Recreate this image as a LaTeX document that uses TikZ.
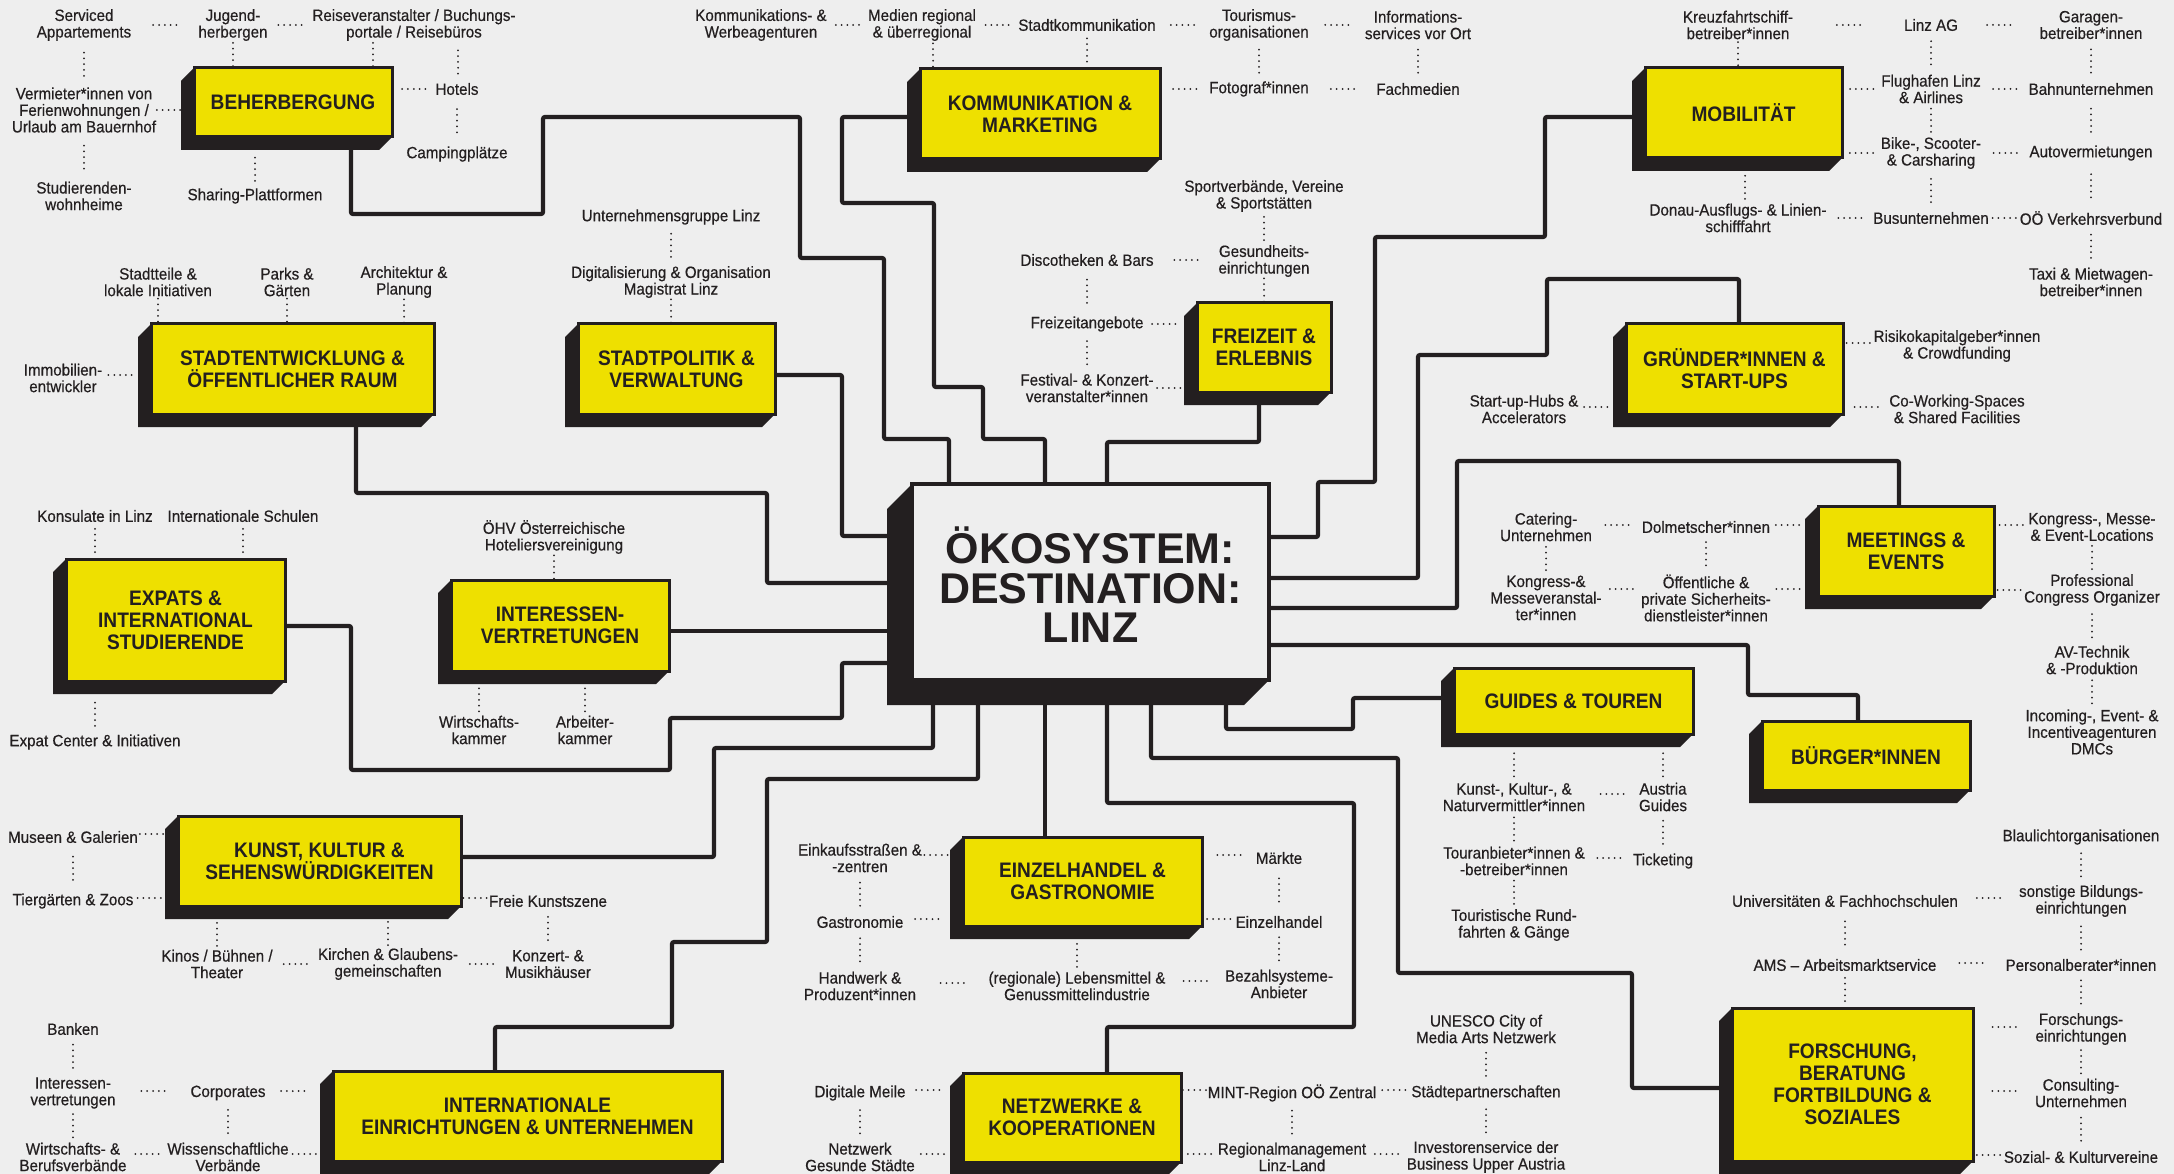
\documentclass[tikz,border=0pt]{standalone}
\usepackage{fontspec}
\setmainfont{Liberation Sans}[FakeStretch=0.93,FakeBold=0.5]
\newfontfamily\boxfont{Liberation Sans}[FakeStretch=0.91]
\newfontfamily\ctrfont{Liberation Sans}
\usetikzlibrary{calc}
\definecolor{bgc}{HTML}{EEEEEE}
\definecolor{yel}{HTML}{EEE000}
\definecolor{ink}{HTML}{231F20}
\pgfdeclarelayer{bgl}\pgfdeclarelayer{conns}\pgfdeclarelayer{shadows}
\pgfsetlayers{bgl,conns,shadows,main}
% box: [depth]{name}{cx}{cy}{w}{h}{text}
\newcommand\mkbox[7][13]{%
  \node[box, minimum width=#5pt, minimum height=#6pt] (#2) at (#3,#4) {#7};
  \coordinate (#2-sw) at ([xshift=-#1pt]#2.west);
  \coordinate (#2-sb) at ([yshift=-#1pt]#2.south);
  \begin{pgfonlayer}{shadows}
  \fill[ink] (#2.north west) -- (#2.north east) -- (#2.south east)
    -- ([xshift=-#1pt,yshift=-#1pt]#2.south east)
    -- ([xshift=-#1pt,yshift=-#1pt]#2.south west)
    -- ([xshift=-#1pt,yshift=-#1pt]#2.north west) -- cycle;
  \end{pgfonlayer}}
% vertical dotted tie: [xshift]{upper point}{lower point}{node giving x}
\newcommand\vd[4][0pt]{\path[dl] let \p1=(#2), \p2=(#3), \p3=(#4) in
  (\x3+#1,{0.5*(\y1+\y2)+11.6pt}) -- ++(0pt,-23.2pt);}
% horizontal dotted tie: [yshift]{left point}{right point}{node giving y}
\newcommand\hd[4][0pt]{\path[dl] let \p1=(#2), \p2=(#3), \p3=(#4) in
  ({0.5*(\x1+\x2)-11.6pt},\y3+#1) -- ++(23.2pt,0pt);}
\begin{document}
\begin{tikzpicture}[x=1pt,y=-1pt,
  lab/.style={align=center, inner sep=0pt, outer sep=0pt, text=ink,
    font={\fontsize{16.3}{16.6}\selectfont}},
  box/.style={draw=ink, line width=3pt, fill=yel, outer sep=0pt, inner sep=0pt,
    align=center, text=ink, font={\boxfont\bfseries\fontsize{21}{22}\selectfont}},
  ctrbox/.style={draw=ink, line width=4.5pt, fill=bgc, outer sep=0pt, inner sep=0pt,
    align=center, text=ink, font={\ctrfont\bfseries\fontsize{43}{39.5}\selectfont}},
  conn/.style={draw=ink, line width=4.2pt, rounded corners=2pt},
  dl/.style={draw=ink, line width=2pt, line cap=round, dash pattern=on 0pt off 5.8pt}]
\begin{pgfonlayer}{bgl}
\fill[bgc] (0,0) rectangle (2174,1174);
\end{pgfonlayer}
\useasboundingbox (0,0) rectangle (2174,1174);

% ---------- centre ----------
\node[ctrbox, minimum width=357pt, minimum height=196pt] (ctr) at (1090.5,582) {\rule{0pt}{42pt}ÖKOSYSTEM:\\DESTINATION:\\LINZ};
\begin{pgfonlayer}{shadows}
\fill[ink] (ctr.north west) -- (ctr.north east) -- (ctr.south east)
  -- ([xshift=-25pt,yshift=-25pt]ctr.south east)
  -- ([xshift=-25pt,yshift=-25pt]ctr.south west)
  -- ([xshift=-25pt,yshift=-25pt]ctr.north west) -- cycle;
\end{pgfonlayer}

% ---------- boxes ----------
\mkbox{beh}{293}{102.5}{198}{69}{BEHERBERGUNG}
\mkbox{kom}{1040}{114}{240}{90}{KOMMUNIKATION \&\\MARKETING}
\mkbox{mob}{1743.5}{113}{197}{90}{MOBILITÄT}
\mkbox{ste}{292.5}{369}{283}{90}{STADTENTWICKLUNG \&\\ÖFFENTLICHER RAUM}
\mkbox{pol}{676.5}{369}{197}{90}{STADTPOLITIK \&\\VERWALTUNG}
\mkbox{fre}{1264}{347.5}{134}{89}{FREIZEIT \&\\ERLEBNIS}
\mkbox{gru}{1734.5}{369}{217}{90}{GRÜNDER*INNEN \&\\START-UPS}
\mkbox{exp}{175.5}{620}{219}{122}{EXPATS \&\\INTERNATIONAL\\STUDIERENDE}
\mkbox{int}{560}{625.5}{218}{91}{INTERESSEN-\\VERTRETUNGEN}
\mkbox{mee}{1906}{551}{176}{90}{MEETINGS \&\\EVENTS}
\mkbox{gui}{1573.5}{701}{239}{66}{GUIDES \& TOUREN}
\mkbox{bur}{1866}{755.5}{208}{69}{BÜRGER*INNEN}
\mkbox{kun}{319.5}{861}{283}{90}{KUNST, KULTUR \&\\SEHENSWÜRDIGKEITEN}
\mkbox{ein}{1082.5}{881.5}{239}{89}{EINZELHANDEL \&\\GASTRONOMIE}
\mkbox{inte}{527.5}{1116}{389}{90}{INTERNATIONALE\\EINRICHTUNGEN \& UNTERNEHMEN}
\mkbox{net}{1072}{1117.5}{218}{89}{NETZWERKE \&\\KOOPERATIONEN}
\mkbox{for}{1852.5}{1084.5}{241}{153}{FORSCHUNG,\\BERATUNG\\FORTBILDUNG \&\\SOZIALES}

% ---------- connectors ----------
\begin{pgfonlayer}{conns}
\draw[conn] (beh.south -| 351,0) |- (543,214) |- (800,117) |- (884,258) |- (949,439) -- (ctr.north -| 949,0);
\draw[conn] (kom.west |- 0,117) -| (842,203) -| (934,387) -| (983,439) -| (ctr.north -| 1045,0);
\draw[conn] (pol.east |- 0,375) -| (842,536) -- (ctr.west |- 0,536);
\draw[conn] (ste.south -| 356,0) |- (767,493) |- (ctr.west |- 0,583);
\draw[conn] (int.east |- 0,631) -- (ctr.west |- 0,631);
\draw[conn] (exp.east |- 0,626) -| (351,770) -| (670,718) -| (842,663) -- (ctr.west |- 0,663);
\draw[conn] (kun.east |- 0,857) -| (714,748) -| (ctr.south -| 933,0);
\draw[conn] (ctr.south -| 978,0) |- (767,779) |- (672,942) |- (495,1027) -- (inte.north -| 495,0);
\draw[conn] (ctr.south -| 1045,0) -- (ein.north -| 1045,0);
\draw[conn] (ctr.south -| 1107,0) |- (1354,803) |- (1107,1027) -- (net.north -| 1107,0);
\draw[conn] (ctr.south -| 1151,0) |- (1398,758) |- (1632,973) |- (for.west |- 0,1088);
\draw[conn] (ctr.south -| 1226,0) |- (1353,729) |- (gui.west |- 0,698);
\draw[conn] (ctr.east |- 0,645) -| (1748,695) -| (bur.north -| 1858,0);
\draw[conn] (ctr.east |- 0,608) -| (1457,461) -| (mee.north -| 1899,0);
\draw[conn] (ctr.east |- 0,578) -| (1418,355) -| (1547,279) -| (gru.north -| 1739,0);
\draw[conn] (ctr.east |- 0,537) -| (1318,482) -| (1375,237) -| (1545,117) -- (mob.west |- 0,117);
\draw[conn] (fre.south -| 1259,0) |- (1107,442) -- (ctr.north -| 1107,0);
\end{pgfonlayer}

% ---------- Beherbergung ----------
\node[lab] (S1) at (84,25) {Serviced\\Appartements};
\node[lab] (S2) at (233,25) {Jugend-\\herbergen};
\node[lab] (S3) at (414,25) {Reiseveranstalter / Buchungs-\\portale / Reisebüros};
\node[lab] (S4) at (457,89) {Hotels};
\node[lab] (S5) at (457,154) {Campingplätze};
\node[lab] (S6) at (84,110) {Vermieter*innen von\\Ferienwohnungen /\\Urlaub am Bauernhof};
\node[lab] (S7) at (84,196) {Studierenden-\\wohnheime};
\node[lab] (S8) at (255,196) {Sharing-Plattformen};
\hd{S1.east}{S2.west}{S1}
\hd{S2.east}{S3.west}{S2}
\vd{S1.south}{S6.north}{S1}
\vd{S6.south}{S7.north}{S6}
\hd{S6.east}{beh-sw}{S6}
\vd{S2.south}{beh.north}{S2}
\vd[-41pt]{S3.south}{beh.north}{S3}
\vd[44pt]{S3.south}{S4.north}{S3}
\hd{beh.east}{S4.west}{S4}
\vd{S4.south}{S5.north}{S4}
\vd{beh-sb}{S8.north}{S8}

% ---------- Kommunikation ----------
\node[lab] (K1) at (761,25) {Kommunikations- \&\\Werbeagenturen};
\node[lab] (K2) at (922,25) {Medien regional\\\& überregional};
\node[lab] (K3) at (1087,25) {Stadtkommunikation};
\node[lab] (K4) at (1259,25) {Tourismus-\\organisationen};
\node[lab] (K5) at (1418,25) {Informations-\\services vor Ort};
\node[lab] (K6) at (1259,89) {Fotograf*innen};
\node[lab] (K7) at (1418,89) {Fachmedien};
\hd{K1.east}{K2.west}{K1}
\hd{K2.east}{K3.west}{K3}
\hd{K3.east}{K4.west}{K3}
\hd{K4.east}{K5.west}{K4}
\vd[11pt]{K2.south}{kom.north}{K2}
\vd{K3.south}{kom.north}{K3}
\vd{K4.south}{K6.north}{K4}
\vd{K5.south}{K7.north}{K5}
\hd{kom.east}{K6.west}{K6}
\hd{K6.east}{K7.west}{K6}

% ---------- Mobilitaet ----------
\node[lab] (M1) at (1738,25) {Kreuzfahrtschiff-\\betreiber*innen};
\node[lab] (M2) at (1931,25) {Linz AG};
\node[lab] (M3) at (2091,25) {Garagen-\\betreiber*innen};
\node[lab] (M4) at (1931,89) {Flughafen Linz\\\& Airlines};
\node[lab] (M5) at (2091,89) {Bahnunternehmen};
\node[lab] (M6) at (1931,153) {Bike-, Scooter-\\\& Carsharing};
\node[lab] (M7) at (2091,153) {Autovermietungen};
\node[lab] (M8) at (1738,218) {Donau-Ausflugs- \& Linien-\\schifffahrt};
\node[lab] (M9) at (1931,218) {Busunternehmen};
\node[lab] (M10) at (2091,218) {OÖ Verkehrsverbund};
\node[lab] (M11) at (2091,282) {Taxi \& Mietwagen-\\betreiber*innen};
\hd{M1.east}{M2.west}{M1}
\hd{M2.east}{M3.west}{M2}
\vd{M1.south}{mob.north}{M1}
\vd{M2.south}{M4.north}{M2}
\vd{M3.south}{M5.north}{M3}
\hd{mob.east}{M4.west}{M4}
\hd{M4.east}{M5.west}{M4}
\vd{M4.south}{M6.north}{M4}
\vd{M5.south}{M7.north}{M5}
\hd{mob.east}{M6.west}{M6}
\hd{M6.east}{M7.west}{M6}
\vd[7pt]{mob-sb}{M8.north}{M8}
\vd{M6.south}{M9.north}{M6}
\vd{M7.south}{M10.north}{M7}
\hd{M8.east}{M9.west}{M9}
\hd{M9.east}{M10.west}{M9}
\vd{M10.south}{M11.north}{M10}

% ---------- Gruender ----------
\node[lab] (G1) at (1957,346) {Risikokapitalgeber*innen\\\& Crowdfunding};
\node[lab] (G2) at (1957,409) {Co-Working-Spaces\\\& Shared Facilities};
\node[lab] (G3) at (1524,409) {Start-up-Hubs \&\\Accelerators};
\hd[3pt]{gru.east}{G1.west}{G1}
\hd[2pt]{gru.east}{G2.west}{G2}
\hd[2pt]{G3.east}{gru-sw}{G3}

% ---------- Freizeit ----------
\node[lab] (F1) at (1264,196) {Sportverbände, Vereine\\\& Sportstätten};
\node[lab] (F2) at (1264,261) {Gesundheits-\\einrichtungen};
\node[lab] (F3) at (1087,260) {Discotheken \& Bars};
\node[lab] (F4) at (1087,324) {Freizeitangebote};
\node[lab] (F5) at (1087,388) {Festival- \& Konzert-\\veranstalter*innen};
\vd{F1.south}{F2.north}{F1}
\vd{F2.south}{fre.north}{F2}
\hd{F3.east}{F2.west}{F3}
\vd{F3.south}{F4.north}{F3}
\vd{F4.south}{F5.north}{F4}
\hd{F4.east}{fre-sw}{F4}
\hd{F5.east}{fre-sw}{F5}

% ---------- Stadtpolitik ----------
\node[lab] (P1) at (671,217) {Unternehmensgruppe Linz};
\node[lab] (P2) at (671,282) {Digitalisierung \& Organisation\\Magistrat Linz};
\vd{P1.south}{P2.north}{P1}
\vd{P2.south}{pol.north}{P2}

% ---------- Stadtentwicklung ----------
\node[lab] (U1) at (158,282) {Stadtteile \&\\lokale Initiativen};
\node[lab] (U2) at (287,282) {Parks \&\\Gärten};
\node[lab] (U3) at (404,282) {Architektur \&\\Planung};
\node[lab] (U4) at (63,378) {Immobilien-\\entwickler};
\vd{U1.south}{ste.north}{U1}
\vd{U2.south}{ste.north}{U2}
\vd{U3.south}{ste.north}{U3}
\hd[3pt]{U4.east}{ste-sw}{U4}

% ---------- Expats ----------
\node[lab] (E1) at (95,516) {Konsulate in Linz};
\node[lab] (E2) at (243,516) {Internationale Schulen};
\node[lab] (E3) at (95,742) {Expat Center \& Initiativen};
\vd{E1.south}{exp.north}{E1}
\vd{E2.south}{exp.north}{E2}
\vd{exp-sb}{E3.north}{E3}

% ---------- Interessenvertretungen ----------
\node[lab] (I1) at (554,537) {ÖHV Österreichische\\Hoteliersvereinigung};
\node[lab] (I2) at (479,730) {Wirtschafts-\\kammer};
\node[lab] (I3) at (585,730) {Arbeiter-\\kammer};
\vd{I1.south}{int.north}{I1}
\vd{int-sb}{I2.north}{I2}
\vd{int-sb}{I3.north}{I3}

% ---------- Meetings ----------
\node[lab] (ME1) at (1546,527) {Catering-\\Unternehmen};
\node[lab] (ME2) at (1546,598) {Kongress-\&\\Messeveranstal-\\ter*innen};
\node[lab] (ME3) at (1706,527) {Dolmetscher*innen};
\node[lab] (ME4) at (1706,598) {Öffentliche \&\\private Sicherheits-\\dienstleister*innen};
\node[lab] (ME5) at (2092,527) {Kongress-, Messe-\\\& Event-Locations};
\node[lab] (ME6) at (2092,590) {Professional\\Congress Organizer};
\node[lab] (ME7) at (2092,660) {AV-Technik\\\& -Produktion};
\node[lab] (ME8) at (2092,732) {Incoming-, Event- \&\\Incentiveagenturen\\DMCs};
\hd[2pt]{ME1.east}{ME3.west}{ME1}
\vd{ME1.south}{ME2.north}{ME1}
\hd[9pt]{ME2.east}{ME4.west}{ME2}
\vd{ME3.south}{ME4.north}{ME3}
\hd[2pt]{ME3.east}{mee-sw}{ME3}
\hd[9pt]{ME4.east}{mee-sw}{ME4}
\hd[2pt]{mee.east}{ME5.west}{ME5}
\hd{mee.east}{ME6.west}{ME6}
\vd{ME5.south}{ME6.north}{ME5}
\vd{ME6.south}{ME7.north}{ME6}
\vd{ME7.south}{ME8.north}{ME7}

% ---------- Guides ----------
\node[lab] (GT1) at (1514,797) {Kunst-, Kultur-, \&\\Naturvermittler*innen};
\node[lab] (GT2) at (1514,861) {Touranbieter*innen \&\\-betreiber*innen};
\node[lab] (GT3) at (1514,925) {Touristische Rund-\\fahrten \& Gänge};
\node[lab] (GT4) at (1663,797) {Austria\\Guides};
\node[lab] (GT5) at (1663,861) {Ticketing};
\vd{gui-sb}{GT1.north}{GT1}
\vd{gui-sb}{GT4.north}{GT4}
\vd{GT1.south}{GT2.north}{GT1}
\vd{GT2.south}{GT3.north}{GT2}
\hd[3pt]{GT1.east}{GT4.west}{GT1}
\hd[3pt]{GT2.east}{GT5.west}{GT2}
\vd{GT4.south}{GT5.north}{GT4}

% ---------- Forschung ----------
\node[lab] (R1) at (2081,837) {Blaulichtorganisationen};
\node[lab] (R2) at (1845,901) {Universitäten \& Fachhochschulen};
\node[lab] (R3) at (2081,901) {sonstige Bildungs-\\einrichtungen};
\node[lab] (R4) at (1845,965) {AMS – Arbeitsmarktservice};
\node[lab] (R5) at (2081,965) {Personalberater*innen};
\node[lab] (R6) at (2081,1029) {Forschungs-\\einrichtungen};
\node[lab] (R7) at (2081,1093) {Consulting-\\Unternehmen};
\node[lab] (R8) at (2081,1157) {Sozial- \& Kulturvereine};
\vd{R1.south}{R3.north}{R1}
\hd[3pt]{R2.east}{R3.west}{R2}
\vd{R2.south}{R4.north}{R2}
\vd{R3.south}{R5.north}{R3}
\hd[2pt]{R4.east}{R5.west}{R4}
\vd{R4.south}{for.north}{R4}
\vd{R5.south}{R6.north}{R5}
\hd[2pt]{for.east}{R6.west}{R6}
\vd{R6.south}{R7.north}{R6}
\hd[2pt]{for.east}{R7.west}{R7}
\vd{R7.south}{R8.north}{R7}
\hd[2pt]{for.east}{R8.west}{R8}

% ---------- Einzelhandel ----------
\node[lab] (H1) at (860,858) {Einkaufsstraßen \&\\-zentren};
\node[lab] (H2) at (860,922) {Gastronomie};
\node[lab] (H3) at (860,986) {Handwerk \&\\Produzent*innen};
\node[lab] (H4) at (1077,986) {(regionale) Lebensmittel \&\\Genussmittelindustrie};
\node[lab] (H5) at (1279,858) {Märkte};
\node[lab] (H6) at (1279,922) {Einzelhandel};
\node[lab] (H7) at (1279,984) {Bezahlsysteme-\\Anbieter};
\hd[3pt]{H1.east}{ein-sw}{H1}
\vd{H1.south}{H2.north}{H1}
\hd[3pt]{H2.east}{ein-sw}{H2}
\vd{H2.south}{H3.north}{H2}
\hd[3pt]{H3.east}{H4.west}{H3}
\vd{ein-sb}{H4.north}{H4}
\hd[3pt]{H4.east}{H7.west}{H7}
\hd[3pt]{ein.east}{H5.west}{H5}
\hd[3pt]{ein.east}{H6.west}{H6}
\vd{H5.south}{H6.north}{H5}
\vd{H6.south}{H7.north}{H6}

% ---------- Netzwerke ----------
\node[lab] (N1) at (860,1093) {Digitale Meile};
\node[lab] (N2) at (860,1157) {Netzwerk\\Gesunde Städte};
\node[lab] (N3) at (1292,1093) {MINT-Region OÖ Zentral};
\node[lab] (N4) at (1292,1157) {Regionalmanagement\\Linz-Land};
\node[lab] (N5) at (1486,1093) {Städtepartnerschaften};
\node[lab] (N6) at (1486,1029) {UNESCO City of\\Media Arts Netzwerk};
\node[lab] (N7) at (1486,1157) {Investorenservice der\\Business Upper Austria};
\hd[3pt]{N1.east}{net-sw}{N1}
\vd{N1.south}{N2.north}{N1}
\hd[3pt]{N2.east}{net-sw}{N2}
\hd[3pt]{net.east}{N3.west}{N3}
\hd[3pt]{N3.east}{N5.west}{N3}
\vd{N3.south}{N4.north}{N3}
\vd{N6.south}{N5.north}{N6}
\vd{N5.south}{N7.north}{N5}
\hd[3pt]{net.east}{N4.west}{N4}
\hd[3pt]{N4.east}{N7.west}{N4}

% ---------- Kunst ----------
\node[lab] (KU1) at (73,837) {Museen \& Galerien};
\node[lab] (KU2) at (73,901) {Tiergärten \& Zoos};
\node[lab] (KU3) at (217,964) {Kinos / Bühnen /\\Theater};
\node[lab] (KU4) at (388,964) {Kirchen \& Glaubens-\\gemeinschaften};
\node[lab] (KU5) at (548,901) {Freie Kunstszene};
\node[lab] (KU6) at (548,964) {Konzert- \&\\Musikhäuser};
\hd[3pt]{KU1.east}{kun-sw}{KU1}
\vd{KU1.south}{KU2.north}{KU1}
\hd[3pt]{KU2.east}{kun-sw}{KU2}
\vd{kun-sb}{KU3.north}{KU3}
\vd{kun-sb}{KU4.north}{KU4}
\hd{KU3.east}{KU4.west}{KU3}
\hd{KU4.east}{KU6.west}{KU4}
\hd[3pt]{kun.east}{KU5.west}{KU5}
\vd{KU5.south}{KU6.north}{KU5}

% ---------- Internationale ----------
\node[lab] (IN1) at (73,1029) {Banken};
\node[lab] (IN2) at (73,1093) {Interessen-\\vertretungen};
\node[lab] (IN3) at (228,1093) {Corporates};
\node[lab] (IN4) at (73,1157) {Wirtschafts- \&\\Berufsverbände};
\node[lab] (IN5) at (228,1157) {Wissenschaftliche\\Verbände};
\vd{IN1.south}{IN2.north}{IN1}
\hd[2pt]{IN2.east}{IN3.west}{IN2}
\hd[2pt]{IN3.east}{inte-sw}{IN3}
\vd{IN2.south}{IN4.north}{IN2}
\vd{IN3.south}{IN5.north}{IN3}
\hd[3pt]{IN4.east}{IN5.west}{IN4}
\hd[3pt]{IN5.east}{inte-sw}{IN5}
\end{tikzpicture}
\end{document}
